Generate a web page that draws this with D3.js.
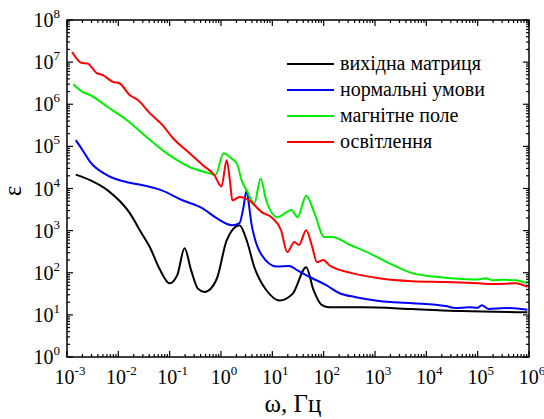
<!DOCTYPE html>
<html>
<head>
<meta charset="utf-8">
<script src="https://cdn.jsdelivr.net/npm/d3@7"></script>
<style>
  html, body { margin: 0; padding: 0; background: #fff; }
  svg { display: block; }
</style>
</head>
<body>
<svg id="chart" width="544" height="419"></svg>
<script>
// Dielectric permittivity spectra, pairs of [frequency in Hz, permittivity]
const seriesNames = ["вихідна матриця", "нормальні умови", "магнітне поле", "освітлення"];
const seriesColors = ["#000000", "#0000ff", "#00ee00", "#ff0000"];

const initialMatrix = [
  [0.00148, 21400], [0.00282, 15800], [0.0063, 8900], [0.0166, 2630], [0.028, 890],
  [0.041, 407], [0.063, 126], [0.1, 56], [0.141, 89], [0.195, 380], [0.263, 112],
  [0.355, 42], [0.48, 35], [0.71, 50], [0.85, 79], [1.29, 589], [2.29, 1350],
  [3.24, 537], [4.47, 135], [5.6, 71], [7.6, 39], [13.8, 22], [25, 32], [45.7, 135],
  [63, 40], [93, 17], [129, 15.1], [562, 15.1], [5250, 13.8], [49000, 12.3], [933000, 11.5]
];

const normalConditions = [
  [0.00148, 141000], [0.00204, 79000], [0.00282, 42700], [0.006, 20900], [0.0148, 14100],
  [0.024, 12600], [0.072, 8900], [0.178, 5250], [0.437, 3390], [0.81, 2000], [1.66, 1350],
  [2.29, 1510], [2.69, 3160], [3.16, 9100], [3.55, 3630], [3.9, 1510], [4.47, 708],
  [6.2, 263], [12, 141], [21.4, 145], [31.6, 112], [60, 74], [112, 51], [200, 33],
  [427, 26.3], [1200, 21.4], [5250, 19], [24000, 16.2], [37000, 14.5], [68000, 15.1],
  [100000, 14.8], [120000, 17], [162000, 13.8], [347000, 14.5], [708000, 13.8], [933000, 13.2]
];

const magneticField = [
  [0.00132, 3.0e6], [0.00204, 1.95e6], [0.00282, 1.66e6], [0.0063, 851000], [0.0148, 417000],
  [0.0355, 166000], [0.087, 69000], [0.245, 32400], [0.60, 22900], [0.78, 20900],
  [1.12, 69000], [1.58, 52500], [2.09, 36300], [2.51, 15800], [3.16, 9100], [4.47, 4470],
  [5.9, 17000], [7.6, 5250], [12.6, 2090], [23.4, 3090], [30.9, 2090], [45.7, 6760],
  [66, 2630], [102, 708], [148, 708], [316, 468], [759, 295], [1860, 170], [5250, 98],
  [17400, 79], [49000, 71], [89000, 69], [145000, 74], [200000, 66], [295000, 68],
  [550000, 66], [933000, 56]
];

const illumination = [
  [0.00126, 1.74e7], [0.00195, 9.5e6], [0.0025, 9.3e6], [0.0038, 5.5e6], [0.005, 4.9e6],
  [0.0078, 3.4e6], [0.0105, 3.16e6], [0.0166, 1.66e6], [0.024, 1.26e6], [0.041, 617000],
  [0.072, 324000], [0.115, 158000], [0.245, 69000], [0.437, 36300], [0.74, 20900],
  [1.02, 11200], [1.29, 46800], [1.51, 13500], [1.66, 5250], [2.29, 6310], [3.55, 5250],
  [6.2, 2750], [10, 2000], [14.8, 1020], [19.5, 309], [26.9, 537], [33, 457], [45.7, 1020],
  [60, 407], [74, 178], [98, 200], [129, 151], [355, 98], [1200, 74], [5250, 63],
  [24000, 60], [105000, 56], [224000, 54], [550000, 56], [933000, 46]
];

const xDecades = [-3, -2, -1, 0, 1, 2, 3, 4, 5, 6];
const yDecades = [0, 1, 2, 3, 4, 5, 6, 7, 8];
const xTitle = "ω, Гц";
const yTitle = "ε";

const allSeries = [initialMatrix, normalConditions, magneticField, illumination];

const serif = "'Liberation Serif', 'DejaVu Serif', 'Times New Roman', serif";
const svg = d3.select("#chart").attr("font-family", serif);
const frame = { left: 67, right: 529, top: 20, bottom: 357 };

const x = d3.scaleLog().domain([1e-3, 1e6]).range([frame.left, frame.right]);
const y = d3.scaleLog().domain([1, 1e8]).range([frame.bottom, frame.top]);

// Curves
const line = d3.line()
  .x(d => x(d[0]))
  .y(d => y(d[1]))
  .curve(d3.curveMonotoneX);

const plot = svg.append("g");
allSeries.forEach((s, i) => {
  plot.append("path")
    .datum(s)
    .attr("fill", "none")
    .attr("stroke", seriesColors[i])
    .attr("stroke-width", 2)
    .attr("stroke-linejoin", "round")
    .attr("d", line);
});

// Minor + major tick values on log axes
function logTicks(decades) {
  const out = [];
  decades.forEach((d, i) => {
    out.push({ v: Math.pow(10, d), major: true });
    if (i < decades.length - 1) {
      for (let k = 2; k <= 9; k++) out.push({ v: k * Math.pow(10, d), major: false });
    }
  });
  return out;
}
const xt = logTicks(xDecades);
const yt = logTicks(yDecades);
const majorLen = 6, minorLen = 3;

const axes = svg.append("g").attr("stroke", "#000").attr("stroke-width", 1.2);
// frame
axes.append("rect")
  .attr("x", frame.left).attr("y", frame.top)
  .attr("width", frame.right - frame.left).attr("height", frame.bottom - frame.top)
  .attr("fill", "none").attr("stroke-width", 1.5);

xt.forEach(t => {
  const px = x(t.v), len = t.major ? majorLen : minorLen;
  axes.append("line").attr("x1", px).attr("x2", px).attr("y1", frame.bottom).attr("y2", frame.bottom - len);
  axes.append("line").attr("x1", px).attr("x2", px).attr("y1", frame.top).attr("y2", frame.top + len);
});
yt.forEach(t => {
  const py = y(t.v), len = t.major ? majorLen : minorLen;
  axes.append("line").attr("x1", frame.left).attr("x2", frame.left + len).attr("y1", py).attr("y2", py);
  axes.append("line").attr("x1", frame.right).attr("x2", frame.right - len).attr("y1", py).attr("y2", py);
});

// Tick labels as 10 with superscript exponent
function powLabel(g, exp, anchor) {
  const t = g.append("text").attr("text-anchor", anchor).attr("font-size", 20)
    .attr("font-family", serif).attr("fill", "#000");
  t.append("tspan").text("10");
  t.append("tspan").attr("font-size", 13).attr("dy", -9).text(String(exp));
  return t;
}
xDecades.forEach(d => {
  powLabel(svg.append("g").attr("transform", `translate(${x(Math.pow(10, d)) + 3},${frame.bottom + 27})`), d, "middle");
});
yDecades.forEach(d => {
  powLabel(svg.append("g").attr("transform", `translate(${frame.left - 7},${y(Math.pow(10, d)) + 7})`), d, "end");
});

// Axis titles
svg.append("text")
  .attr("x", 293).attr("y", 412)
  .attr("text-anchor", "middle")
  .attr("font-family", serif)
  .attr("font-size", 25)
  .text(xTitle);
svg.append("text")
  .attr("transform", `translate(21,191) rotate(-90)`)
  .attr("text-anchor", "middle")
  .attr("font-family", serif)
  .attr("font-size", 25)
  .text(yTitle);

// Legend
const legend = svg.append("g");
seriesNames.forEach((name, i) => {
  const ly = 64 + i * 26;
  legend.append("line")
    .attr("x1", 287).attr("x2", 334)
    .attr("y1", ly).attr("y2", ly)
    .attr("stroke", seriesColors[i]).attr("stroke-width", 2);
  legend.append("text")
    .attr("x", 340).attr("y", ly + 6)
    .attr("font-family", serif)
    .attr("font-size", 20)
    .text(name);
});
</script>
</body>
</html>
